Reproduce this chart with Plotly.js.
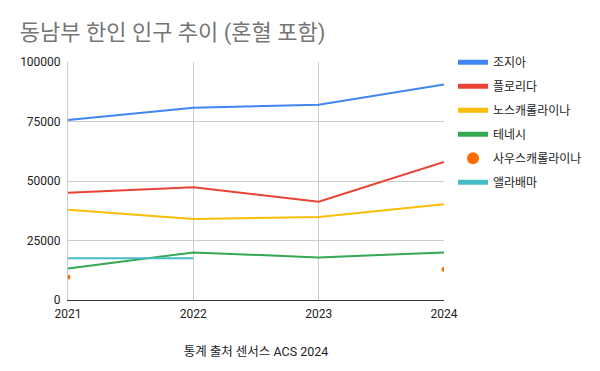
<!DOCTYPE html>
<html>
<head>
<meta charset="utf-8">
<script src="https://cdn.plot.ly/plotly-3.0.1.min.js"></script>
<style>html,body{margin:0;padding:0;background:#fff}#chart{width:600px;height:371px}</style>
</head>
<body>
<div id="chart"></div>
<script>
const years = [2021, 2022, 2023, 2024];
const seriesNames = ["조지아", "플로리다", "노스캐롤라이나", "테네시", "사우스캐롤라이나", "앨라배마"];
const georgia = [75600, 80800, 82000, 90500];
const florida = [45100, 47400, 41300, 58000];
const northCarolina = [37900, 34000, 34900, 40200];
const tennessee = [13200, 20000, 17900, 20000];
const southCarolina = [9700, null, null, 12900];
const alabama = [17500, 17500, null, null];
const yTicks = [0, 25000, 50000, 75000, 100000];
const titleText = "동남부 한인 인구 추이 (혼혈 포함)";
const xTitleText = "통계 출처 센서스 ACS 2024";

const colors = ["#4285f4", "#ea4335", "#fbbc04", "#34a853", "#ff6d01", "#46bdc6"];
const allValues = [georgia, florida, northCarolina, tennessee, southCarolina, alabama];

const traces = allValues.map((vals, i) => {
  const isMarker = i === 4;
  return {
    x: years,
    y: vals,
    name: seriesNames[i],
    legendgroup: "g" + i,
    type: "scatter",
    mode: isMarker ? "markers" : "lines",
    line: {color: colors[i], width: 2},
    marker: {color: colors[i], size: 5},
    connectgaps: false,
    hoverinfo: "x+y+name"
  };
});

const font = "Roboto, 'Noto Sans CJK KR', Arial, sans-serif";
const layout = {
  width: 600, height: 371,
  margin: {l: 68, r: 156, t: 62, b: 71},
  paper_bgcolor: "#fff", plot_bgcolor: "#fff",
  font: {family: font, size: 12, color: "#222"},
  title: {text: titleText, x: 0.033, xanchor: "left", y: 0.913, yanchor: "middle",
          font: {family: font, size: 22, color: "#757575"}},
  xaxis: {
    range: [2021, 2024], tickvals: years, ticktext: years.map(String),
    showgrid: true, gridcolor: "#cccccc", gridwidth: 1,
    zeroline: false, showline: true, linecolor: "#333", linewidth: 1,
    ticks: "", tickfont: {size: 12, color: "#222"}, ticklabelstandoff: 3,
    title: {text: xTitleText, font: {size: 12.5, color: "#222"}, standoff: 26}
  },
  yaxis: {
    range: [0, 100000], tickvals: yTicks, ticktext: yTicks.map(String),
    showgrid: true, gridcolor: "#cccccc", gridwidth: 1,
    zeroline: false, showline: true, linecolor: "#cccccc",
    ticks: "", tickfont: {size: 12, color: "#222"}, ticklabelstandoff: 4
  },
  showlegend: true,
  legend: {xref: "container", yref: "container", x: 0.755, xanchor: "left", y: 0.871, yanchor: "top",
           font: {size: 12, color: "#222"}, tracegroupgap: 5,
           itemsizing: "constant", itemwidth: 30, bgcolor: "rgba(0,0,0,0)"}
};

Plotly.newPlot("chart", traces, layout, {displayModeBar: false, staticPlot: true});
</script>
</body>
</html>
